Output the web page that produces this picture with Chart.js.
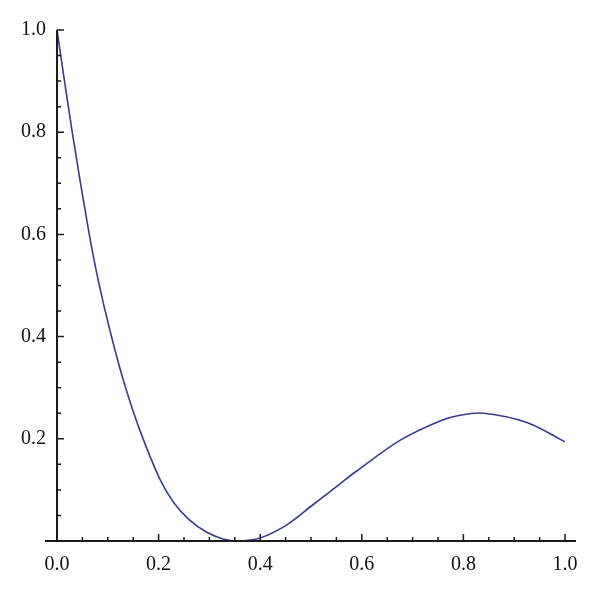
<!DOCTYPE html>
<html>
<head>
<meta charset="utf-8">
<script src="https://cdn.jsdelivr.net/npm/chart.js@4"></script>
<style>
  html, body { margin: 0; padding: 0; background: #fff; }
  #wrap { width: 600px; height: 597px; }
</style>
</head>
<body>
<div id="wrap"><canvas id="chart" width="600" height="597"></canvas></div>
<script>
/* --- Data --- */
const xValues = [0, 0.03, 0.062, 0.081, 0.104, 0.132, 0.163, 0.203, 0.23, 0.26, 0.295, 0.327, 0.355,
  0.40, 0.45, 0.50, 0.557, 0.59, 0.675, 0.754, 0.793, 0.839, 0.925, 1.0];
const yValues = [1.0, 0.80, 0.609, 0.511, 0.413, 0.31, 0.217, 0.12, 0.075, 0.042, 0.017, 0.004, 0.0,
  0.006, 0.03, 0.068, 0.112, 0.137, 0.197, 0.235, 0.246, 0.250, 0.232, 0.194];

const xTickLabels = ['0.0', '0.2', '0.4', '0.6', '0.8', '1.0'];
const yTickLabels = ['', '0.2', '0.4', '0.6', '0.8', '1.0'];
const majorTicks = [0, 0.2, 0.4, 0.6, 0.8, 1.0];

const LINE_COLOR = '#3b3b8e';
const AXIS_COLOR = '#1a1a1a';
const FONT = "'Liberation Serif', 'DejaVu Serif', serif";

/* --- Axis lines and tick marks drawn through the scales --- */
const axisPlugin = {
  id: 'axisPlugin',
  afterDraw(chart) {
    const { ctx, scales: { x, y } } = chart;
    const x0 = x.getPixelForValue(0);
    const y0 = y.getPixelForValue(0);
    ctx.save();
    ctx.strokeStyle = AXIS_COLOR;
    ctx.lineWidth = 2;
    ctx.beginPath();
    ctx.moveTo(x0 - 12, y0);
    ctx.lineTo(x.getPixelForValue(1) + 11, y0);
    ctx.moveTo(x0, y0);
    ctx.lineTo(x0, y.getPixelForValue(1));
    ctx.stroke();

    ctx.lineWidth = 1.5;
    ctx.beginPath();
    for (let i = 1; i <= 20; i++) {
      const v = i * 0.05;
      const major = i % 4 === 0;
      // y ticks point right, x ticks point up
      const py = y.getPixelForValue(v);
      ctx.moveTo(x0, py);
      ctx.lineTo(x0 + (major ? 7 : 4), py);
      const px = x.getPixelForValue(v);
      ctx.moveTo(px, y0);
      ctx.lineTo(px, y0 - (major ? 7 : 4));
    }
    ctx.stroke();
    ctx.restore();
  }
};

new Chart(document.getElementById('chart'), {
  type: 'line',
  data: {
    datasets: [{
      data: xValues.map((v, i) => ({ x: v, y: yValues[i] })),
      borderColor: LINE_COLOR,
      borderWidth: 1.6,
      borderJoinStyle: 'round',
      pointRadius: 0,
      fill: false,
      tension: 0.33
    }]
  },
  options: {
    responsive: false,
    animation: false,
    layout: { padding: { left: 0, right: 35, top: 30, bottom: 0 } },
    plugins: { legend: { display: false }, tooltip: { enabled: false } },
    scales: {
      x: {
        type: 'linear',
        min: 0, max: 1,
        afterFit(s) { s.height = 56; },
        afterBuildTicks(s) { s.ticks = majorTicks.map(v => ({ value: v })); },
        grid: { display: false },
        border: { display: false },
        ticks: {
          padding: 4,
          color: '#111',
          font: { family: FONT, size: 20 },
          maxRotation: 0,
          callback: (v, i) => xTickLabels[i]
        }
      },
      y: {
        type: 'linear',
        min: 0, max: 1,
        afterFit(s) { s.width = 57; },
        afterBuildTicks(s) { s.ticks = majorTicks.map(v => ({ value: v })); },
        grid: { display: false },
        border: { display: false },
        ticks: {
          padding: 3,
          color: '#111',
          font: { family: FONT, size: 20 },
          callback: (v, i) => yTickLabels[i]
        }
      }
    }
  },
  plugins: [axisPlugin]
});
</script>
</body>
</html>
